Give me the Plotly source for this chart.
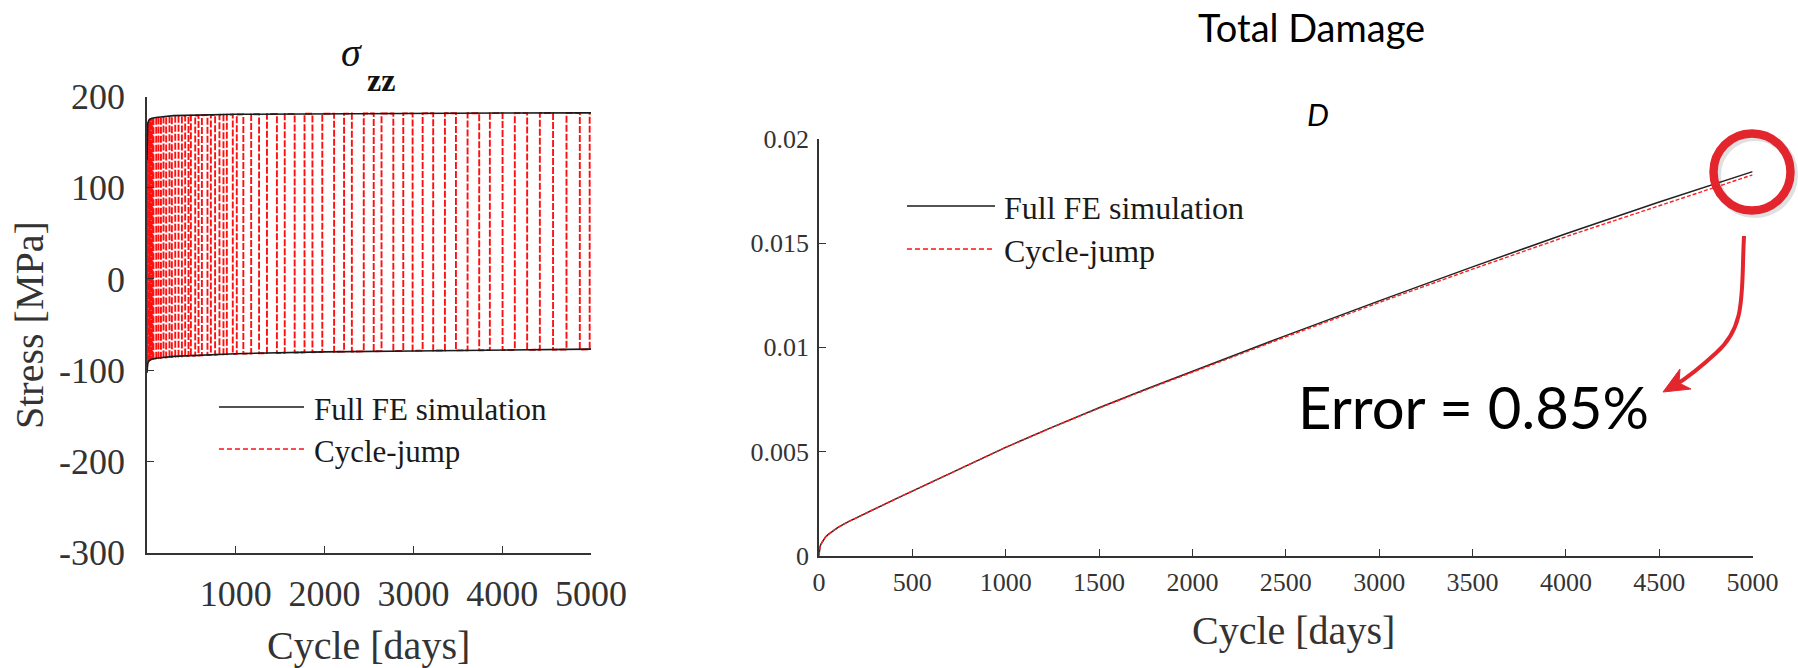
import plotly.graph_objects as go

W, H = 1798, 668

# ---- sigma_zz: peak / valley envelope of the full FE run ----
env_cycles = [0, 3, 8, 20, 50, 100, 300, 1000, 2000, 3000, 4000, 5000]
env_max = [130, 160, 170, 174, 176, 177, 179, 180.5, 181.2, 181.6, 181.9, 182]
env_min = [-103, -97, -93, -90, -88, -87, -85, -82, -80, -79, -78, -77]

# ---- sigma_zz: cycles actually computed by the cycle-jump scheme ----
jump_cycles = [3, 8, 14, 22, 31, 41, 52, 62, 73, 104, 130, 157, 186, 216, 253, 280,
               318, 355, 393, 430, 467, 494, 543, 580, 618, 681, 719, 767, 816, 861,
               899, 966, 1011, 1085, 1173, 1262, 1351, 1463, 1551, 1663, 1774, 1863,
               1974, 2107, 2219, 2307, 2441, 2553, 2641, 2774, 2886, 2991, 3104, 3223,
               3355, 3479, 3610, 3741, 3861, 4004, 4142, 4281, 4424, 4573, 4724, 4874,
               4985]
jump_peak = [168, 172, 174, 174.5, 175, 175.3, 175.5, 175.7, 175.9, 176.2, 176.5, 176.7,
             177, 177.2, 177.5, 177.7, 178, 178.2, 178.4, 178.6, 178.8, 179, 179.1,
             179.3, 179.4, 179.6, 179.7, 179.8, 179.9, 180, 180.1, 180.2, 180.3, 180.4,
             180.5, 180.6, 180.7, 180.8, 180.9, 181, 181, 181.1, 181.1, 181.2, 181.2,
             181.3, 181.3, 181.4, 181.4, 181.4, 181.5, 181.5, 181.5, 181.6, 181.6,
             181.6, 181.7, 181.7, 181.7, 181.8, 181.8, 181.8, 181.9, 181.9, 181.9,
             182, 182]
jump_valley = [-95, -92, -90.5, -89.5, -89, -88.5, -88.2, -88, -87.8, -87.4, -87, -86.7,
               -86.4, -86.1, -85.8, -85.6, -85.3, -85.1, -84.9, -84.7, -84.5, -84.3,
               -84.1, -83.9, -83.7, -83.5, -83.3, -83.1, -82.9, -82.7, -82.6, -82.4,
               -82.2, -82, -81.8, -81.6, -81.4, -81.2, -81, -80.8, -80.6, -80.4, -80.2,
               -80, -79.8, -79.7, -79.5, -79.3, -79.2, -79, -78.9, -78.8, -78.7, -78.6,
               -78.5, -78.4, -78.3, -78.2, -78.1, -78, -77.9, -77.8, -77.7, -77.6,
               -77.5, -77.4, -77.3]

# ---- total damage D ----
damage_cycles = [0, 2, 5, 10, 20, 35, 50, 75, 100, 150, 200, 300, 400, 500, 750, 1000,
                 1250, 1500, 1750, 2000, 2500, 3000, 3500, 4000, 4500, 5000]
damage_full = [0, 0.00025, 0.0004, 0.00055, 0.00072, 0.0009, 0.00102, 0.0012, 0.00135,
               0.0016, 0.00182, 0.00225, 0.00268, 0.0031, 0.00416, 0.0052, 0.00617,
               0.0071, 0.00799, 0.00885, 0.01056, 0.01223, 0.01386, 0.01545, 0.01697,
               0.01843]
damage_jump = [0, 0.00025, 0.0004, 0.00055, 0.00072, 0.0009, 0.00102, 0.0012, 0.00135,
               0.0016, 0.00182, 0.00225, 0.00268, 0.0031, 0.00416, 0.0052, 0.00616,
               0.00708, 0.00796, 0.00881, 0.01050, 0.01215, 0.01375, 0.01531, 0.01681,
               0.018273]

left_xticks = [1000, 2000, 3000, 4000, 5000]
left_yticks = [-300, -200, -100, 0, 100, 200]
left_yticktext = ["-300", "-200", "-100", "0", "100", "200"]
right_xticks = [0, 500, 1000, 1500, 2000, 2500, 3000, 3500, 4000, 4500, 5000]
right_yticks = [0, 0.005, 0.01, 0.015, 0.02]
right_yticktext = ["0", "0.005", "0.01", "0.015", "0.02"]

SERIF = "Liberation Serif"
SANS = "Lato"
AXC = "#333333"
RED_MARK = "#E3262E"


def px(x):
    return x / W


def py(y):
    return 1 - y / H


def path(cmds):
    out = []
    for cmd, pts in cmds:
        out.append(cmd + " " + " ".join(f"{px(x):.5f},{py(y):.5f}" for x, y in pts))
    return " ".join(out)


fig = go.Figure()

# cycle-jump zig-zag: each computed cycle runs between its valley and peak
zx, zy = [], []
for i, (n, p, v) in enumerate(zip(jump_cycles, jump_peak, jump_valley)):
    zx += [n, n]
    zy += [v, p] if i % 2 == 0 else [p, v]
fig.add_trace(go.Scatter(x=zx, y=zy, mode="lines", xaxis="x", yaxis="y",
                         line=dict(color="#ff1010", width=1.9, dash="7px,2px"),
                         showlegend=False, hoverinfo="skip"))
fig.add_trace(go.Scatter(x=env_cycles + [None] + env_cycles,
                         y=env_max + [None] + env_min, mode="lines",
                         xaxis="x", yaxis="y",
                         line=dict(color="#1a1a1a", width=1.6),
                         showlegend=False, hoverinfo="skip"))

fig.add_trace(go.Scatter(x=damage_cycles, y=damage_full, mode="lines",
                         xaxis="x2", yaxis="y2",
                         line=dict(color="#222222", width=1.5),
                         showlegend=False, hoverinfo="skip"))
fig.add_trace(go.Scatter(x=damage_cycles, y=damage_jump, mode="lines",
                         xaxis="x2", yaxis="y2",
                         line=dict(color="#ff2020", width=1.4, dash="4px,2px"),
                         showlegend=False, hoverinfo="skip"))

axis_common = dict(showline=True, linecolor=AXC, linewidth=1.5, ticks="inside",
                   ticklen=7, tickwidth=1.3, tickcolor=AXC, showgrid=False,
                   zeroline=False, mirror=False, fixedrange=True, automargin=False)

fig.update_layout(
    template="none",
    width=W, height=H, autosize=False,
    margin=dict(l=0, r=0, t=0, b=0, pad=0, autoexpand=False),
    paper_bgcolor="white", plot_bgcolor="white",
    showlegend=False,
    xaxis=dict(domain=[px(147), px(591)], range=[0, 5000], anchor="y",
               tickvals=left_xticks, ticklabelstandoff=9,
               tickfont=dict(family=SERIF, size=36, color=AXC), **axis_common),
    yaxis=dict(domain=[py(552.5), py(96.5)], range=[-300, 200], anchor="x",
               tickvals=left_yticks, ticktext=left_yticktext, ticklabelstandoff=13,
               tickfont=dict(family=SERIF, size=36, color=AXC), **axis_common),
    xaxis2=dict(domain=[px(819), px(1752.6)], range=[0, 5000], anchor="y2",
                tickvals=right_xticks, ticklabelstandoff=2,
                tickfont=dict(family=SERIF, size=26, color=AXC), **axis_common),
    yaxis2=dict(domain=[py(555.7), py(138.9)], range=[0, 0.02], anchor="x2",
                tickvals=right_yticks, ticktext=right_yticktext, ticklabelstandoff=3,
                tickfont=dict(family=SERIF, size=26, color=AXC), **axis_common),
)


def label(text, x, y, size, family=SERIF, color=AXC, xanchor="center", angle=0):
    fig.add_annotation(text=text, x=px(x), y=py(y), xref="paper", yref="paper",
                       showarrow=False, xanchor=xanchor, yanchor="middle",
                       textangle=angle, font=dict(family=family, size=size, color=color))


# left panel titles
label("<i>σ</i>", 351, 52, 40, color="#111111")
label("<b>zz</b>", 381, 80, 32, color="#111111")
label("Stress [MPa]", 30, 325, 40, angle=-90)
label("Cycle [days]", 368, 645, 40)

# right panel titles
label("Total Damage", 1311, 27, 38, family=SANS, color="#000000")
label("<i>D</i>", 1318, 114, 31, family=SANS, color="#000000")
label("Cycle [days]", 1293, 630, 40)
label("Error = 0.85%", 1473, 407, 58, family=SANS, color="#000000")

# hand-drawn legends
shapes = []
for (x0, x1, tx, y_full, y_jump, fs) in [(219, 304, 312, 407, 449, 31),
                                          (907, 995, 1002, 206, 249, 32)]:
    shapes.append(dict(type="line", xref="paper", yref="paper", x0=px(x0), x1=px(x1),
                       y0=py(y_full), y1=py(y_full), line=dict(color="#1a1a1a", width=1.6)))
    shapes.append(dict(type="line", xref="paper", yref="paper", x0=px(x0), x1=px(x1),
                       y0=py(y_jump), y1=py(y_jump),
                       line=dict(color="#ff1010", width=1.6, dash="5px,3px")))
    label("Full FE simulation", tx, y_full + 2, fs, color="#1a1a1a", xanchor="left")
    label("Cycle-jump", tx, y_jump + 2, fs, color="#1a1a1a", xanchor="left")

# highlight circle with a soft drop shadow
cx, cy, r = 1752, 172, 38.5
shapes.append(dict(type="circle", xref="paper", yref="paper",
                   x0=px(cx - r + 3), x1=px(cx + r + 3), y0=py(cy + r + 3), y1=py(cy - r + 3),
                   line=dict(color="rgba(0,0,0,0.12)", width=9)))
shapes.append(dict(type="circle", xref="paper", yref="paper",
                   x0=px(cx - r), x1=px(cx + r), y0=py(cy + r), y1=py(cy - r),
                   line=dict(color=RED_MARK, width=8.5)))

# curved arrow pointing at the error label
shapes.append(dict(type="path", xref="paper", yref="paper",
                   path=path([("M", [(1744, 236)]),
                              ("C", [(1741, 292), (1747, 326), (1716, 353)]),
                              ("C", [(1702, 366), (1690, 376), (1674, 386)])]),
                   line=dict(color=RED_MARK, width=4)))
shapes.append(dict(type="path", xref="paper", yref="paper",
                   path=path([("M", [(1663, 392)]), ("L", [(1691, 389)]),
                              ("L", [(1679, 383)]), ("L", [(1680, 369)])]) + " Z",
                   fillcolor=RED_MARK, line=dict(color=RED_MARK, width=1)))

fig.update_layout(shapes=shapes)

# pin the figure to the top-left corner of the page
page_fix = (
    "document.documentElement.style.margin='0';"
    "document.documentElement.style.overflow='hidden';"
    "document.body.style.margin='0';"
    "document.body.style.overflow='hidden';"
    "var g=document.querySelector('.plotly-graph-div');"
    "if(g){g.style.position='fixed';g.style.left='0px';g.style.top='0px';}"
)

fig.write_html("out.html", config={"displayModeBar": False}, post_script=page_fix)
